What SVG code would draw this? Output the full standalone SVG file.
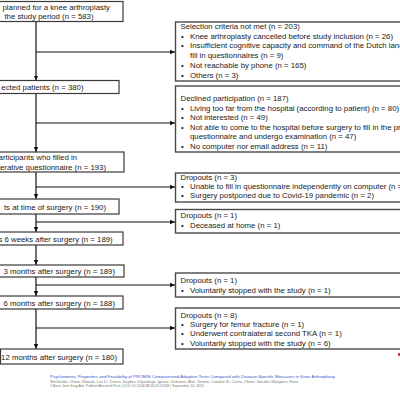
<svg xmlns="http://www.w3.org/2000/svg" width="400" height="400" viewBox="0 0 400 400">
<style>
.bg{fill:#fff}
.box{fill:#fff;stroke:#3a3a3a;stroke-width:1.2}
.rbox{fill:#fff;stroke:#4a4a4a;stroke-width:1.4}
.t{font-family:"Liberation Sans",Arial,sans-serif;font-size:7.8px;fill:#1a1a1a}
.e{text-anchor:end}
.c{stroke:#111;stroke-width:1.2;fill:none}
.ft{font-family:"Liberation Sans",Arial,sans-serif}
</style>
<defs>
<marker id="ah" markerWidth="6" markerHeight="6" refX="5" refY="3" orient="auto" markerUnits="userSpaceOnUse">
<path d="M0,0.8 L5,3 L0,5.2 Z" fill="#111"/>
</marker>
</defs>
<rect class="bg" x="0" y="0" width="400" height="400"/>
<g id="connectors">
<path class="c" d="M36,21.5 V80.5" marker-end="url(#ah)"/>
<path class="c" d="M36,52 H175" marker-end="url(#ah)"/>
<path class="c" d="M36,93.5 V152" marker-end="url(#ah)"/>
<path class="c" d="M36,123 H175" marker-end="url(#ah)"/>
<path class="c" d="M36,172 V199" marker-end="url(#ah)"/>
<path class="c" d="M36,187 H175" marker-end="url(#ah)"/>
<path class="c" d="M36,214 V232" marker-end="url(#ah)"/>
<path class="c" d="M36,222 H175" marker-end="url(#ah)"/>
<path class="c" d="M36,245 V265" marker-end="url(#ah)"/>
<path class="c" d="M36,277 V296" marker-end="url(#ah)"/>
<path class="c" d="M36,285 H175" marker-end="url(#ah)"/>
<path class="c" d="M36,309 V349" marker-end="url(#ah)"/>
<path class="c" d="M36,328 H175" marker-end="url(#ah)"/>
</g>
<g id="n1">
<rect class="box" x="-3" y="1.5" width="126" height="20"/>
<text class="t e" x="110" y="10">planned for a knee arthroplasty</text>
<text class="t e" x="93.5" y="19">the study period (n = 583)</text>
</g>
<g id="n2">
<rect class="box" x="-3" y="80.5" width="122" height="13"/>
<text class="t e" x="83.5" y="90">ected patients (n = 380)</text>
</g>
<g id="n3">
<rect class="box" x="-3" y="152" width="127" height="20"/>
<text class="t e" x="77" y="160">articipants who filled in</text>
<text class="t e" x="106" y="169.5">erative questionnaire (n = 193)</text>
</g>
<g id="n4">
<rect class="box" x="-3" y="199" width="122" height="15"/>
<text class="t e" x="106" y="209.5">ts at time of surgery (n = 190)</text>
</g>
<g id="n5">
<rect class="box" x="-3" y="232" width="126" height="13"/>
<text class="t e" x="112.7" y="241.5">s 6 weeks after surgery (n = 189)</text>
</g>
<g id="n6">
<rect class="box" x="-3" y="265" width="127" height="12"/>
<text class="t e" x="115" y="274">3 months after surgery (n = 189)</text>
</g>
<g id="n7">
<rect class="box" x="-3" y="296" width="126" height="13"/>
<text class="t e" x="115" y="305.5">6 months after surgery (n = 188)</text>
</g>
<g id="n8">
<rect class="box" x="0.5" y="349" width="122.5" height="15"/>
<text class="t e" x="117" y="359.5">12 months after surgery (n = 180)</text>
</g>
<g id="r1">
<rect class="rbox" x="175.5" y="22" width="230" height="59"/>
<text class="t" x="180.5" y="28.8">Selection criteria not met (n = 203)</text>
<text class="t" x="181" y="38.6">•</text><text class="t" x="190" y="38.6">Knee arthroplasty cancelled before study inclusion (n = 26)</text>
<text class="t" x="181" y="48.4">•</text><text class="t" x="190" y="48.4">Insufficient cognitive capacity and command of the Dutch language to</text>
<text class="t" x="190" y="58.2">fill in questionnaires (n = 9)</text>
<text class="t" x="181" y="68">•</text><text class="t" x="190" y="68">Not reachable by phone (n = 165)</text>
<text class="t" x="181" y="77.8">•</text><text class="t" x="190" y="77.8">Others (n = 3)</text>
</g>
<g id="r2">
<rect class="rbox" x="175.5" y="86" width="230" height="66"/>
<text class="t" x="180.5" y="101">Declined participation (n = 187)</text>
<text class="t" x="181" y="110.5">•</text><text class="t" x="190" y="110.5">Living too far from the hospital (according to patient) (n = 80)</text>
<text class="t" x="181" y="120">•</text><text class="t" x="190" y="120">Not interested (n = 49)</text>
<text class="t" x="181" y="129.7">•</text><text class="t" x="190" y="129.7">Not able to come to the hospital before surgery to fill in the preoperative</text>
<text class="t" x="190" y="139.3">questionnaire and undergo examination (n = 47)</text>
<text class="t" x="181" y="149">•</text><text class="t" x="190" y="149">No computer nor email address (n = 11)</text>
</g>
<g id="r3">
<rect class="rbox" x="175.5" y="173" width="230" height="29"/>
<text class="t" x="180.5" y="180">Dropouts (n = 3)</text>
<text class="t" x="181" y="189.3">•</text><text class="t" x="190" y="189.3">Unable to fill in questionnaire independently on computer (n = 1)</text>
<text class="t" x="181" y="198">•</text><text class="t" x="190" y="198">Surgery postponed due to Covid-19 pandemic (n = 2)</text>
</g>
<g id="r4">
<rect class="rbox" x="175.5" y="209.5" width="230" height="23.5"/>
<text class="t" x="180.5" y="218">Dropouts (n = 1)</text>
<text class="t" x="181" y="228">•</text><text class="t" x="190" y="228">Deceased at home (n = 1)</text>
</g>
<g id="r5">
<rect class="rbox" x="175.5" y="273" width="230" height="24"/>
<text class="t" x="180.5" y="283">Dropouts (n = 1)</text>
<text class="t" x="181" y="293">•</text><text class="t" x="190" y="293">Voluntarily stopped with the study (n = 1)</text>
</g>
<g id="r6">
<rect class="rbox" x="175.5" y="308" width="230" height="41"/>
<text class="t" x="180.5" y="318">Dropouts (n = 8)</text>
<text class="t" x="181" y="327">•</text><text class="t" x="190" y="327">Surgery for femur fracture (n = 1)</text>
<text class="t" x="181" y="336.3">•</text><text class="t" x="190" y="336.3">Underwent contralateral second TKA (n = 1)</text>
<text class="t" x="181" y="345.7">•</text><text class="t" x="190" y="345.7">Voluntarily stopped with the study (n = 6)</text>
</g>
<rect x="398" y="353" width="2" height="3" fill="#d04040"/>
<g id="footer">
<text class="ft" x="50" y="377.5" font-size="4.3" fill="#3a4fc8" textLength="285" lengthAdjust="spacingAndGlyphs">Psychometric Properties and Feasibility of PROMIS Computerized Adaptive Tests Compared with Disease-Specific Measures in Knee Arthroplasty</text>
<text class="ft" x="50" y="382.5" font-size="3.6" fill="#777" textLength="248" lengthAdjust="spacingAndGlyphs">Shellander, Olivier; Roorda, Leo D.; Doens, Seydou; Dilpaslings, Ignace; Demuere, Alex; Terwee, Caroline B.; Cornu, Olivier; Van den Wyngaert, Hans</text>
<text class="ft" x="50" y="387" font-size="3.6" fill="#777" textLength="154" lengthAdjust="spacingAndGlyphs">J Bone Joint Surg Am. Publish Ahead of Print | DOI: 10.2106/JBJS.24.01348 | September 14, 2025</text>
</g>
</svg>
